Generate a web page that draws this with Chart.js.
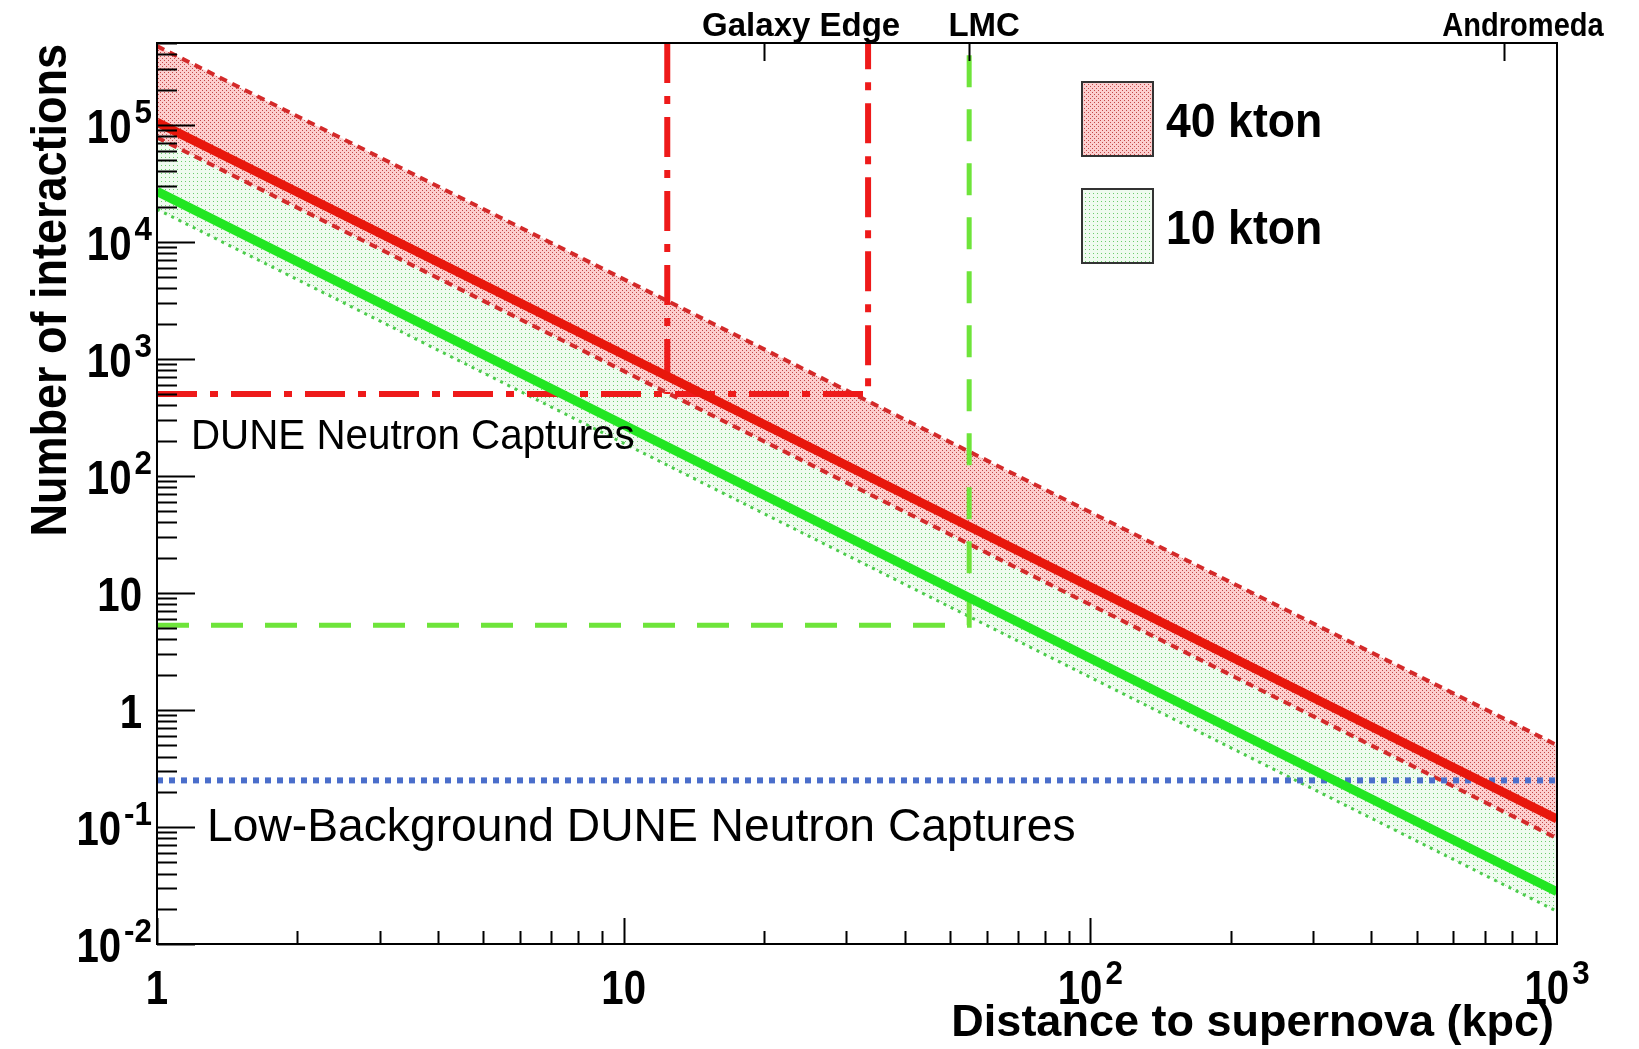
<!DOCTYPE html>
<html>
<head>
<meta charset="utf-8">
<script src="https://cdn.jsdelivr.net/npm/chart.js@4/dist/chart.umd.min.js"></script>
<style>
  body { margin: 0; background: #fff; }
  canvas { display: block; }
</style>
</head>
<body>
<canvas id="snChart" width="1639" height="1049"></canvas>
<script>
// distance range (kpc) shared by all the band lines
const distances = [1, 1000];

// number of interactions at 1 kpc and at 1000 kpc
const kton40Central = [1.05e5, 0.117];
const kton40Upper = [4.7e5, 0.5];
const kton40Lower = [7.8e4, 0.08];
const kton10Central = [2.7e4, 0.028];
const kton10Upper = [1.17e5, 0.118];
const kton10Lower = [1.9e4, 0.019];

// detection thresholds
const neutronCaptureLevel = 500;
const lmcCaptureLevel = 5.3;
const lowBackgroundLevel = 0.25;

// reference distances (kpc)
const galaxyNear = 12.4;
const galaxyFar = 33.4;
const lmcDistance = 55;

// top axis markers
const markerNames = ["Galaxy Edge", "LMC", "Andromeda"];
const markerDistances = [20, 55, 770];

// tick labels
const yTickValues = [0.01, 0.1, 1, 10, 100, 1000, 1e4, 1e5];
const yTickLabels = [["10", "-2"], ["10", "-1"], ["1", ""], ["10", ""], ["10", "2"], ["10", "3"], ["10", "4"], ["10", "5"]];
const xTickValues = [1, 10, 100, 1000];
const xTickLabels = [["1", ""], ["10", ""], ["10", "2"], ["10", "3"]];

const legendNames = ["40 kton", "10 kton"];

function makePattern(bg, dot, dots) {
    let c = document.createElement("canvas");
    c.width = 4; c.height = 4;
    let g = c.getContext("2d");
    g.fillStyle = bg;
    g.fillRect(0, 0, 4, 4);
    g.fillStyle = dot;
    dots.forEach(d => g.fillRect(d[0], d[1], 1, 1));
    return g.createPattern(c, "repeat");
}

const redFill = makePattern("#fccfcf", "#c44848", [[0, 0], [2, 2]]);
const greenFill = makePattern("#effbef", "#6ccc6c", [[1, 1]]);

function line(values) {
    return distances.map((d, i) => ({ x: d, y: values[i] }));
}

function txt(ctx, s, x, y, size, opt) {
    opt = opt || {};
    ctx.save();
    ctx.font = (opt.bold ? "bold " : "") + size + 'px "Liberation Sans", Arial, sans-serif';
    ctx.fillStyle = opt.color || "#000";
    ctx.textBaseline = "alphabetic";
    ctx.translate(x, y);
    if (opt.rotate) ctx.rotate(opt.rotate);
    ctx.scale(opt.sx || 1, 1);
    let w = ctx.measureText(s).width;
    let dx = opt.align === "right" ? -w : opt.align === "center" ? -w / 2 : 0;
    ctx.fillText(s, dx, 0);
    ctx.restore();
}

function textWidth(ctx, s, size, bold) {
    ctx.save();
    ctx.font = (bold ? "bold " : "") + size + 'px "Liberation Sans", Arial, sans-serif';
    let w = ctx.measureText(s).width;
    ctx.restore();
    return w;
}

// "10" with superscript, as ROOT draws it
function powerLabel(ctx, parts, x, y, align, supRise) {
    const sx = 0.82, big = 49, small = 33, supSx = 0.95, gap = 3;
    let wb = textWidth(ctx, parts[0], big, true) * sx;
    let we = parts[1] ? textWidth(ctx, parts[1], small, true) * supSx + gap : 0;
    let left = align === "right" ? x - wb - we : x - (wb + we) / 2;
    txt(ctx, parts[0], left, y, big, { bold: true, sx: sx });
    if (parts[1]) txt(ctx, parts[1], left + wb + gap, y - supRise, small, { bold: true, sx: supSx });
}

const rootAxes = {
    id: "rootAxes",
    beforeDraw(chart) {
        let ctx = chart.ctx;
        ctx.save();
        ctx.fillStyle = "#fff";
        ctx.fillRect(0, 0, chart.width, chart.height);
        ctx.restore();
    },
    afterDatasetsDraw(chart) {
        let ctx = chart.ctx;
        let a = chart.chartArea;
        let xs = chart.scales.x, ys = chart.scales.y;

        ctx.save();
        ctx.strokeStyle = "#000";
        ctx.lineWidth = 2;

        // y ticks (inside, on the left)
        ctx.beginPath();
        for (let e = -2; e <= 5; e++) {
            for (let m = 1; m <= 9; m++) {
                let v = m * Math.pow(10, e);
                if (v > ys.max) break;
                let py = Math.round(ys.getPixelForValue(v)) + 0.5;
                let len = m === 1 ? 38 : 20;
                ctx.moveTo(a.left, py);
                ctx.lineTo(a.left + len, py);
            }
        }
        // x ticks (inside, at the bottom)
        for (let e = 0; e <= 2; e++) {
            for (let m = 1; m <= 9; m++) {
                let v = m * Math.pow(10, e);
                let px = Math.round(xs.getPixelForValue(v)) + 0.5;
                let len = m === 1 ? 26 : 13;
                ctx.moveTo(px, a.bottom);
                ctx.lineTo(px, a.bottom - len);
            }
        }
        // top axis marker ticks
        markerDistances.forEach(d => {
            let px = Math.round(xs.getPixelForValue(d)) + 0.5;
            ctx.moveTo(px, a.top);
            ctx.lineTo(px, a.top + 18);
        });
        ctx.stroke();

        // frame
        ctx.strokeRect(a.left, a.top, a.right - a.left, a.bottom - a.top);
        ctx.restore();

        // tick labels
        yTickValues.forEach((v, i) => {
            let right = yTickLabels[i][1] ? 152 : 142;
            powerLabel(ctx, yTickLabels[i], right, ys.getPixelForValue(v) + 18, "right", 20);
        });
        xTickValues.forEach((v, i) => {
            powerLabel(ctx, xTickLabels[i], xs.getPixelForValue(v), 1004, "center", 20);
        });

        // top markers
        const markerShift = [37, 15, 19];
        const markerSx = [1.0, 1.0, 0.88];
        markerNames.forEach((n, i) => {
            txt(ctx, n, xs.getPixelForValue(markerDistances[i]) + markerShift[i], 36, 33, { bold: true, align: "center", sx: markerSx[i] });
        });

        // axis titles
        txt(ctx, "Distance to supernova (kpc)", 1554, 1036, 45, { bold: true, align: "right", sx: 1.0 });
        txt(ctx, "Number of interactions", 66, 44, 50, { bold: true, align: "right", rotate: -Math.PI / 2, sx: 0.9 });

        // annotations
        txt(ctx, "DUNE Neutron Captures", 191, 449, 42, { sx: 0.96 });
        txt(ctx, "Low-Background DUNE Neutron Captures", 207, 841, 46, { sx: 1.005 });

        // legend
        const boxes = [[1082, 82, redFill], [1082, 189, greenFill]];
        boxes.forEach((b, i) => {
            ctx.save();
            ctx.fillStyle = b[2];
            ctx.fillRect(b[0], b[1], 71, 74);
            ctx.strokeStyle = "#333";
            ctx.lineWidth = 2;
            ctx.strokeRect(b[0], b[1], 71, 74);
            ctx.restore();
            txt(ctx, legendNames[i], 1166, b[1] + 55, 48, { bold: true, sx: 0.93 });
        });
    }
};

new Chart(document.getElementById("snChart"), {
    type: "line",
    data: {
        datasets: [
            {
                label: "10 kton upper", data: line(kton10Upper), order: 20,
                borderColor: "#4ccc4c", borderWidth: 3, borderDash: [3, 5],
                fill: "+1", backgroundColor: greenFill
            },
            {
                label: "10 kton lower", data: line(kton10Lower), order: 19,
                borderColor: "#4ccc4c", borderWidth: 3, borderDash: [3, 5], fill: false
            },
            {
                label: "40 kton upper", data: line(kton40Upper), order: 18,
                borderColor: "#d42a2a", borderWidth: 4, borderDash: [8, 6],
                fill: "+1", backgroundColor: redFill
            },
            {
                label: "40 kton lower", data: line(kton40Lower), order: 17,
                borderColor: "#d42a2a", borderWidth: 4, borderDash: [8, 6], fill: false
            },
            {
                label: "Low-background threshold",
                data: [{ x: distances[0], y: lowBackgroundLevel }, { x: distances[1], y: lowBackgroundLevel }],
                order: 10, borderColor: "#4a6ecb", borderWidth: 6, borderDash: [6, 6], fill: false
            },
            {
                label: "Galaxy edge far",
                data: [{ x: 1, y: neutronCaptureLevel }, { x: galaxyFar, y: neutronCaptureLevel }, { x: galaxyFar, y: 5e5 }],
                order: 9, borderColor: "#ee1a1a", borderWidth: 6, borderDash: [40, 13, 8, 13], fill: false
            },
            {
                label: "Galaxy edge near",
                data: [{ x: galaxyNear, y: 5e5 }, { x: galaxyNear, y: neutronCaptureLevel }],
                order: 8, borderColor: "#ee1a1a", borderWidth: 6, borderDash: [40, 13, 8, 13], fill: false
            },
            {
                label: "LMC",
                data: [{ x: 1, y: lmcCaptureLevel }, { x: lmcDistance, y: lmcCaptureLevel }, { x: lmcDistance, y: 5e5 }],
                order: 7, borderColor: "#6ee43a", borderWidth: 5, borderDash: [32, 22], fill: false
            },
            {
                label: "10 kton", data: line(kton10Central), order: 2,
                borderColor: "#22e622", borderWidth: 9, fill: false
            },
            {
                label: "40 kton", data: line(kton40Central), order: 1,
                borderColor: "#e8170c", borderWidth: 9, fill: false
            }
        ]
    },
    options: {
        responsive: false,
        animation: false,
        layout: { padding: { left: 157, right: 82, top: 43, bottom: 105 } },
        elements: { point: { radius: 0 }, line: { tension: 0, borderCapStyle: "butt" } },
        plugins: { legend: { display: false }, tooltip: { enabled: false } },
        scales: {
            x: { type: "logarithmic", min: 1, max: 1000, display: false },
            y: { type: "logarithmic", min: 0.01, max: 5e5, display: false }
        }
    },
    plugins: [rootAxes]
});
</script>
</body>
</html>
